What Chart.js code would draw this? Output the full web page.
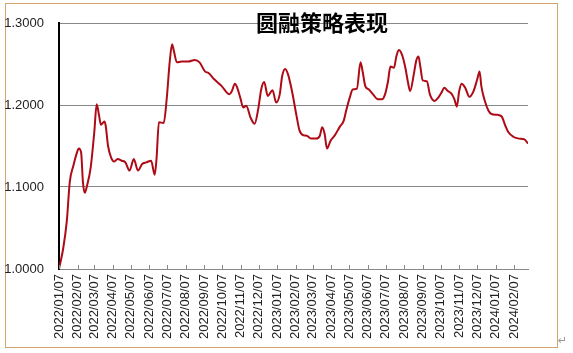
<!DOCTYPE html>
<html>
<head>
<meta charset="utf-8">
<script src="https://cdn.jsdelivr.net/npm/chart.js@4"></script>
<style>
  body { margin: 0; background: #fff; }
  #wrap { width: 573px; height: 353px; position: relative; }
</style>
</head>
<body>
<div id="wrap"><canvas id="navChart" width="573" height="353"></canvas></div>
<script>
// data for 圆融策略表现 (days counted from 2022/01/07)

const startDate = '2022/01/07';

const dayOffsets = [
  0, 7, 13, 18, 24, 30, 33, 37, 40, 43, 47, 53, 59, 63, 67, 70, 76, 78, 82, 87,
  92, 98, 105, 111, 118, 125, 132, 139, 146, 154, 160, 163, 167, 175, 180, 185, 189, 192, 197, 205,
  216, 227, 235, 244, 250, 260, 272, 285, 289, 294, 298, 303, 308, 313, 320, 327, 333, 338, 343, 349,
  357, 363, 369, 373, 378, 383, 390, 397, 402, 409, 414, 422, 430, 436, 440, 444, 448, 454, 461, 469,
  476, 480, 486, 491, 498, 504, 508, 512, 518, 525, 533, 540, 545, 550, 554, 560, 564, 568, 573, 579,
  583, 587, 593, 597, 601, 604, 608, 615, 620, 628, 634, 640, 644, 650, 656, 661, 665, 669, 673, 679,
  686, 693, 699, 703, 706, 711, 718, 723, 733, 740, 746, 751, 760, 769, 778, 784
];

const navValues = [
  1.000, 1.025, 1.058, 1.106, 1.126, 1.142, 1.147, 1.142, 1.106, 1.093, 1.102, 1.124, 1.167, 1.201, 1.187, 1.176, 1.180, 1.175, 1.150, 1.136,
  1.131, 1.134, 1.132, 1.130, 1.120, 1.134, 1.120, 1.128, 1.130, 1.132, 1.115, 1.134, 1.179, 1.178, 1.207, 1.252, 1.274, 1.266, 1.252, 1.253,
  1.253, 1.255, 1.252, 1.241, 1.239, 1.231, 1.223, 1.213, 1.217, 1.226, 1.221, 1.209, 1.197, 1.199, 1.185, 1.177, 1.195, 1.219, 1.228, 1.211,
  1.218, 1.203, 1.213, 1.235, 1.244, 1.237, 1.215, 1.187, 1.169, 1.163, 1.1625, 1.159, 1.159, 1.1625, 1.173, 1.165, 1.147, 1.1565, 1.163, 1.173,
  1.181, 1.193, 1.209, 1.219, 1.220, 1.252, 1.239, 1.223, 1.219, 1.213, 1.207, 1.207, 1.213, 1.229, 1.247, 1.2455, 1.2595, 1.267, 1.262, 1.2455,
  1.229, 1.217, 1.237, 1.2535, 1.259, 1.247, 1.230, 1.229, 1.213, 1.205, 1.209, 1.216, 1.221, 1.217, 1.214, 1.207, 1.198, 1.217, 1.226, 1.221,
  1.210, 1.217, 1.231, 1.241, 1.223, 1.207, 1.193, 1.189, 1.188, 1.186, 1.175, 1.167, 1.161, 1.159, 1.158, 1.153
];

const tickLabels = [
  '2022/01/07', '2022/02/07', '2022/03/07', '2022/04/07', '2022/05/07', '2022/06/07',
  '2022/07/07', '2022/08/07', '2022/09/07', '2022/10/07', '2022/11/07', '2022/12/07',
  '2023/01/07', '2023/02/07', '2023/03/07', '2023/04/07', '2023/05/07', '2023/06/07',
  '2023/07/07', '2023/08/07', '2023/09/07', '2023/10/07', '2023/11/07', '2023/12/07',
  '2024/01/07', '2024/02/07'
];

const yTicks = [1.0, 1.1, 1.2, 1.3];

function toUTC(s) {
  const p = s.split('/');
  return Date.UTC(+p[0], +p[1] - 1, +p[2]);
}
const tickDays = tickLabels.map(l => (toUTC(l) - toUTC(startDate)) / 864e5);

// setup
const points = dayOffsets.map((d, i) => ({x: d, y: navValues[i]}));

const frame = {
  id: 'frame',
  beforeDraw(chart) {
    const ctx = chart.ctx;
    ctx.save();
    ctx.fillStyle = '#fff';
    ctx.fillRect(0, 0, chart.width, chart.height);
    ctx.strokeStyle = '#D2A46E';
    ctx.lineWidth = 1;
    ctx.strokeRect(5.5, 3.5, 552, 344);
    ctx.restore();
  },
  afterDraw(chart) {
    const ctx = chart.ctx;
    const xs = chart.scales.x;
    const a = chart.chartArea;
    ctx.save();
    // inner tick marks on the date axis
    ctx.strokeStyle = '#888';
    ctx.lineWidth = 1;
    ctx.beginPath();
    tickDays.forEach(d => {
      const px = Math.round(xs.getPixelForValue(d)) + 0.5;
      ctx.moveTo(px, a.bottom - 4);
      ctx.lineTo(px, a.bottom);
    });
    ctx.stroke();
    // title sits over the plot, like the original
    ctx.fillStyle = '#000';
    ctx.font = 'bold 22px "Noto Sans CJK SC", sans-serif';
    ctx.textAlign = 'center';
    ctx.textBaseline = 'middle';
    ctx.fillText('圆融策略表现', 322, 23);
    ctx.fillStyle = '#999';
    ctx.font = '11px "DejaVu Sans", sans-serif';
    ctx.textAlign = 'left';
    ctx.fillText('↵', 558, 341);
    ctx.restore();
  }
};

// config
const config = {
  type: 'line',
  data: {
    datasets: [{
      label: '圆融策略',
      data: points,
      borderColor: '#AD0B16',
      borderWidth: 2,
      pointRadius: 0,
      tension: 0.4,
      cubicInterpolationMode: 'monotone',
      fill: false
    }]
  },
  options: {
    responsive: false,
    animation: false,
    layout: { padding: { top: 23, right: 45, left: 0, bottom: 0 } },
    plugins: {
      legend: { display: false },
      tooltip: { enabled: false },
      title: { display: false }
    },
    scales: {
      x: {
        type: 'linear',
        min: 0,
        max: 784,
        afterBuildTicks: s => { s.ticks = tickDays.map(v => ({value: v})); },
        afterFit: s => { s.height = 84; },
        grid: { drawOnChartArea: false, drawTicks: false },
        border: { color: '#888', width: 1 },
        ticks: {
          autoSkip: false,
          minRotation: 90,
          maxRotation: 90,
          padding: 5,
          color: '#222',
          font: { family: '"Liberation Sans", Arial, sans-serif', size: 13 },
          callback: (v, i) => tickLabels[i]
        }
      },
      y: {
        min: 1.0,
        max: 1.3,
        afterBuildTicks: s => { s.ticks = yTicks.map(v => ({value: v})); },
        afterFit: s => { s.width = 59; },
        grid: { color: '#888', lineWidth: 1, drawTicks: false },
        border: { color: '#000', width: 2 },
        ticks: {
          padding: 15,
          color: '#222',
          font: { family: '"Liberation Sans", Arial, sans-serif', size: 13 },
          callback: v => v.toFixed(4)
        }
      }
    }
  },
  plugins: [frame]
};

// render init block
const navChart = new Chart(document.getElementById('navChart'), config);
</script>
</body>
</html>
